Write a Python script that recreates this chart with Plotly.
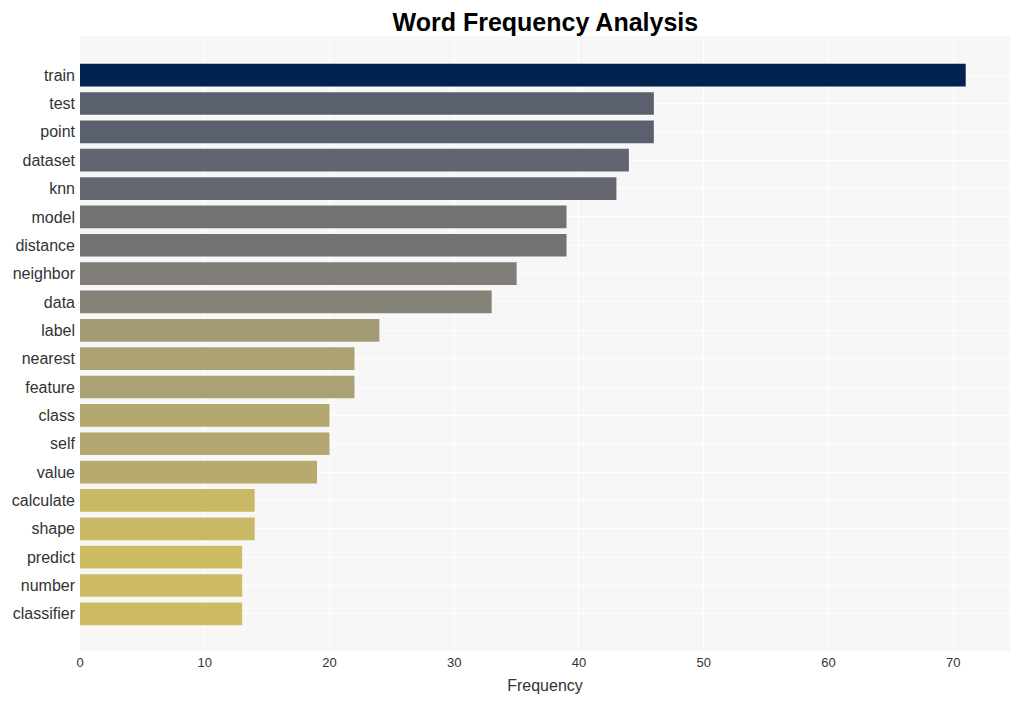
import plotly.graph_objects as go

# Word counts, top to bottom as shown
words = ["train", "test", "point", "dataset", "knn", "model", "distance", "neighbor",
         "data", "label", "nearest", "feature", "class", "self", "value",
         "calculate", "shape", "predict", "number", "classifier"]
counts = [71, 46, 46, 44, 43, 39, 39, 35, 33, 24, 22, 22, 20, 20, 19, 14, 14, 13, 13, 13]

fig = go.Figure(go.Bar(
    x=counts,
    y=words,
    orientation="h",
    marker=dict(
        color=counts,
        colorscale="Cividis",
        reversescale=True,
        cmin=0,
        cmax=71,
        line=dict(width=0),
    ),
    hovertemplate="%{y}: %{x}<extra></extra>",
))

fig.update_layout(
    width=1012,
    height=693,
    title=dict(text="<b>Word Frequency Analysis</b>", x=0.531, y=0.98,
               xanchor="center", yanchor="middle",
               font=dict(size=25, color="black", family="Arial")),
    font=dict(family="Arial", size=14, color="#333"),
    plot_bgcolor="#f7f7f7",
    paper_bgcolor="white",
    margin=dict(l=72, r=10, t=28, b=50, autoexpand=False),
    bargap=0.2,
    xaxis=dict(title=dict(text="Frequency", font=dict(size=16), standoff=10),
               range=[0, 74.55], dtick=10, gridcolor="white", gridwidth=1,
               zeroline=False, tickfont=dict(size=13), ticklabelstandoff=2,
               automargin=False),
    yaxis=dict(categoryorder="array", categoryarray=words,
               range=[20.31, -1.38], gridcolor="white", ticks="",
               ticklabelstandoff=4, tickfont=dict(size=16), automargin=False),
)

fig.write_html("out.html")
